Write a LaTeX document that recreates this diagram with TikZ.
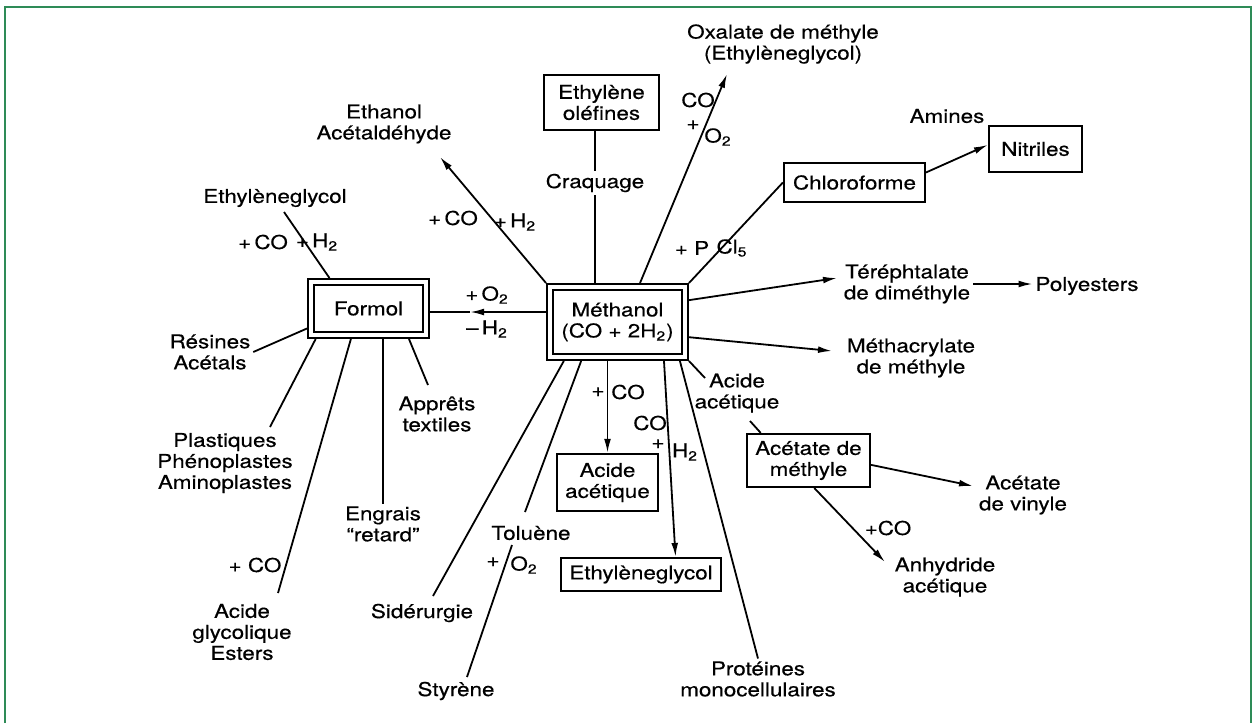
\documentclass[tikz,border=0pt]{standalone}
\usepackage{fontspec}
\setmainfont{TeX Gyre Heros}[FakeStretch=1.18, FakeBold=0.4]
\usetikzlibrary{arrows.meta}
\definecolor{cadre}{RGB}{46,139,87}
\tikzset{
    etiq/.style={align=center, inner sep=1pt, font=\fontsize{9.5}{10.5}\selectfont},
    boite/.style={etiq, draw, line width=1.1pt, inner sep=2pt},
    dboite/.style={etiq, draw, line width=1pt, double, double distance=2.2pt, outer sep=2.1pt},
    fleche/.style={-{Latex[length=7pt,width=3.4pt]}},
}

\begin{document}
\begin{tikzpicture}[x=0.5pt, y=-0.5pt, line width=0.9pt]
    \useasboundingbox (0,0) rectangle (1253,723);
    % Рамка
    \draw [cadre, line width=1pt] (5,723) -- (5,7) -- (1251,7) -- (1251,723);

    % Главные блоки
    \node[dboite, minimum width=67.3pt, minimum height=34.8pt] (meth) at (617.5,322) {Méthanol\\(CO + 2H\textsubscript{2})};
    \node[dboite, minimum width=57.3pt, minimum height=26.3pt] (form) at (368.5,308.5) {Formol};

    % Блоки в рамке
    \node[boite, minimum width=57.5pt, minimum height=27.5pt] (ethyl) at (601.5,102.5) {Ethylène\\oléfines};
    \node[boite, minimum width=70.5pt, minimum height=19.5pt] (chloro) at (854.5,182.5) {Chloroforme};
    \node[boite, minimum width=46.5pt, minimum height=23pt] (nitr) at (1035.5,149) {Nitriles};
    \node[boite, minimum width=50.5pt, minimum height=28.5pt] (aa) at (607.5,482.5) {Acide\\acétique};
    \node[boite, minimum width=80pt, minimum height=16.5pt] (eg) at (641,574.5) {Ethylèneglycol};
    \node[boite, minimum width=61.5pt, minimum height=26.5pt] (am) at (808.5,460.5) {Acétate de\\méthyle};

    % Продукты
    \node[etiq] (ethanol) at (384,124) {Ethanol\\Acétaldéhyde};
    \node[etiq, fill=white] (craq) at (595,183) {Craquage};
    \node[etiq] (oxal) at (783,44) {Oxalate de méthyle\\(Ethylèneglycol)};
    \node[etiq] (amines) at (947,116) {Amines};
    \node[etiq] (tere) at (907,284) {Téréphtalate\\de diméthyle};
    \node[etiq] (poly) at (1087,286) {Polyesters};
    \node[etiq] (metha) at (911,358) {Méthacrylate\\de méthyle};
    \node[etiq] (acac) at (737,393) {Acide\\acétique};
    \node[etiq] (avin) at (1023,495) {Acétate\\de vinyle};
    \node[etiq] (anhy) at (945,577) {Anhydride\\acétique};
    \node[etiq] (prot) at (758,679) {Protéines\\monocellulaires};
    \node[etiq] (styr) at (456,691) {Styrène};
    \node[etiq] (tol) at (531,533) {Toluène};
    \node[etiq] (sider) at (422,613) {Sidérurgie};
    \node[etiq] (engr) at (383,524) {Engrais\\``retard''};
    \node[etiq] (glyc) at (242,632) {Acide\\glycolique\\Esters};
    \node[etiq] (plast) at (225,463) {Plastiques\\Phénoplastes\\Aminoplastes};
    \node[etiq] (resin) at (210,352) {Résines\\Acétals};
    \node[etiq] (appr) at (437,414) {Apprêts\\textiles};
    \node[etiq] (eglyc) at (275,198) {Ethylèneglycol};

    % Реагенты
    \node[etiq] (coA) at (453,218) {+\,CO};
    \node[etiq] (hA) at (515,222) {+\,H\textsubscript{2}};
    \node[etiq] (coB) at (698,100) {CO};
    \node[etiq] (plB) at (693,125) {+};
    \node[etiq] (oB) at (718,137) {O\textsubscript{2}};
    \node[etiq] (pC) at (692,248) {+ P};
    \node[etiq] (clC) at (732,248) {Cl\textsubscript{5}};
    \node[etiq] (oD) at (487,295) {+\,O\textsubscript{2}};
    \node[etiq] (hD) at (487,329) {--\,H\textsubscript{2}};
    \node[etiq] (plE) at (598,392) {+};
    \node[etiq] (coE) at (628,392) {CO};
    \node[etiq] (coF) at (650,423) {CO};
    \node[etiq] (plF) at (658,444) {+};
    \node[etiq] (hF) at (685,452) {H\textsubscript{2}};
    \node[etiq] (coG) at (888,528) {+CO};
    \node[etiq] (coH) at (263,242) {+\,CO};
    \node[etiq] (hH) at (317,242) {+\,H\textsubscript{2}};
    \node[etiq] (coI) at (255,565) {+ CO};
    \node[etiq] (plJ) at (493,562) {+};
    \node[etiq] (oJ) at (524,565) {O\textsubscript{2}};

    % Свободные концы
    \coordinate (ethtip) at (440,157);
    \coordinate (oxtip) at (727,74);
    \coordinate (teretip) at (837,278);
    \coordinate (methtip) at (832,351);
    \coordinate (acacin) at (705,378);
    \coordinate (acacout) at (750,421);
    \coordinate (toltop) at (525,512);
    \coordinate (tolbot) at (512,545);
    \coordinate (styrtop) at (467,677);
    \coordinate (sidtop) at (433,596);
    \coordinate (eglbot) at (284,212);
    \coordinate (plasttop) at (270,427);
    \coordinate (glyctop) at (278,593);
    \coordinate (apprtop) at (428,385);
    \coordinate (avintip) at (973,486);
    \coordinate (anhytip) at (885,562);
    \coordinate (formin) at (470,312);

    % Связи от метанола
    \draw[fleche] (meth.north west) -- (ethtip);
    \draw (craq.north) -- (craq.north |- ethyl.south);
    \draw (craq.south) -- (craq.south |- meth.north);
    \draw[fleche] (meth.60) -- (oxtip);
    \draw (meth.north east) -- (chloro.west);
    \draw[fleche] (chloro.8) -- (nitr.175);
    \draw[fleche] (meth.17) -- (teretip);
    \draw[fleche] (tere.east) -- (poly.west |- tere.east);
    \draw[fleche] (meth.-12) -- (methtip);
    \draw (meth.south east) -- (acacin);
    \draw (acacout) -- (am.150);
    \draw[fleche] (am.-4) -- (avintip);
    \draw[fleche] (am.-78) -- (anhytip);
    \draw (meth.-32.5) -- (prot.north);
    \draw[fleche] (meth.-40.6) -- (eg.27);
    \draw[fleche] (aa.north |- meth.south) -- (aa.north);
    \draw (meth.-133.9) -- (toltop);
    \draw (tolbot) -- (styrtop);
    \draw (meth.-144.4) -- (sidtop);
    \draw[fleche] (meth.west |- formin) -- (formin);
    \draw (formin) -- (form.east |- formin);

    % Связи от формола
    \draw (form.142.8) -- (eglbot);
    \draw (form.198.7) -- (resin.east);
    \draw (form.-150.4) -- (plasttop);
    \draw (form.-120.4) -- (glyctop);
    \draw (engr.north |- form.south) -- (engr.north);
    \draw (form.-37.9) -- (apprtop);
\end{tikzpicture}
\end{document}
